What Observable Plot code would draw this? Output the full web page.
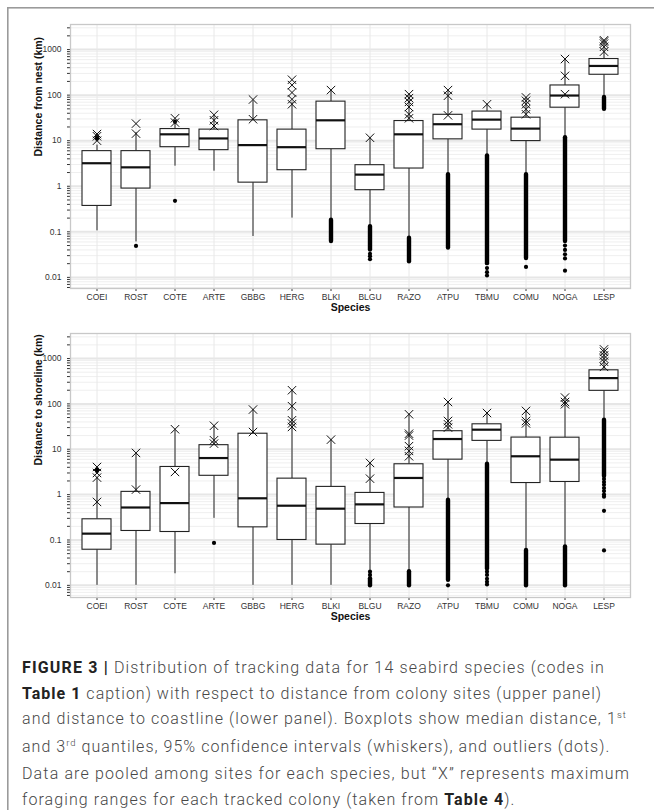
<!DOCTYPE html>
<html>
<head>
<meta charset="utf-8">
<script src="https://cdn.jsdelivr.net/npm/d3@7"></script>
<script src="https://cdn.jsdelivr.net/npm/@observablehq/plot@0.6"></script>
<style>
  html, body { margin: 0; padding: 0; background: #fff; }
  #wrap { position: relative; width: 654px; height: 810px;
    background:
      linear-gradient(#9a9a9a, #9a9a9a) 7px 7px / 647px 1.6px no-repeat,
      linear-gradient(#9a9a9a, #9a9a9a) 7px 7px / 1.6px 803px no-repeat,
      #fff; }
  .panel { position: absolute; left: 0; }
  #caption { position: absolute; left: 22px; top: 655px; font-family: Roboto, "Liberation Sans", sans-serif; font-weight: 300; font-size: 16px; line-height: 25.5px; color: #474747; white-space: nowrap; }
  #caption b { font-weight: 700; color: #222; }
  #caption sup { font-size: 9.5px; vertical-align: 0; position: relative; top: -6px; }
  #caption .ln { display: block; }
</style>
</head>
<body>
<div id="wrap">
  <div id="top" class="panel" style="top:0px"></div>
  <div id="bottom" class="panel" style="top:309px"></div>
  <div id="caption">
    <span class="ln" data-w="583"><b>FIGURE 3 |</b> Distribution of tracking data for 14 seabird species (codes in</span>
    <span class="ln" data-w="580"><b>Table 1</b> caption) with respect to distance from colony sites (upper panel)</span>
    <span class="ln" data-w="605"><span>and distance to coastline (lower panel). Boxplots show median distance, 1</span><sup>st</sup></span>
    <span class="ln" data-w="588"><span>and 3</span><sup>rd</sup><span> quantiles, 95% confidence intervals (whiskers), and outliers (dots).</span></span>
    <span class="ln" data-w="608">Data are pooled among sites for each species, but “X” represents maximum</span>
    <span class="ln" data-w="">foraging ranges for each tracked colony (taken from <b>Table 4</b>).</span>
  </div>
</div>
<script>
// ---------- categories ----------
const species = ["COEI","ROST","COTE","ARTE","GBBG","HERG","BLKI","BLGU","RAZO","ATPU","TBMU","COMU","NOGA","LESP"];

// ---------- y-axis tick labels ----------
const yMajorTicks = [0.01, 0.1, 1, 10, 100, 1000];
const yMinorMultipliers = [2, 3, 4, 5, 6, 7, 8, 9];

// ---------- upper panel: distance from nest (km) ----------
const nestLow    = [0.105, 0.06, 2.76, 2.14, 0.079, 0.2,  0.18, 0.13, 0.072, 1.8,  4.6,  1.8,  11.6, 89];
const nestQ1     = [0.37,  0.89, 7.2,  6.2,  1.2,   2.25, 6.5,  0.82, 2.45,  10.7, 17.5, 9.8,  53,   280];
const nestMedian = [3.2,   2.6,  13.8, 11.2, 8,     7.2,  28,   1.8,  13.8,  23,   29,   18.4, 98,   437];
const nestQ3     = [5.9,   5.9,  18,   17.5, 28,    17.5, 72,   2.9,  27,    37,   43.6, 32,   163,  620];
const nestHigh   = [8,     15,   29,   35,   75,    70,   129,  11.6, 105,   129,  63,   89,   620,  1230];
// dense columns of outliers: [species, lowest, highest]
const nestOutlierRuns = [
  ["BLKI", 0.061, 0.18], ["BLGU", 0.04, 0.13], ["RAZO", 0.022, 0.072], ["ATPU", 0.044, 1.8],
  ["TBMU", 0.02, 4.6], ["COMU", 0.026, 1.8], ["NOGA", 0.061, 11.6], ["LESP", 49, 89]
];
// single outliers: [species, value]
const nestOutliers = [
  ["COEI", 11], ["COEI", 12], ["ROST", 0.049], ["COTE", 0.48], ["COTE", 26],
  ["BLGU", 0.033], ["BLGU", 0.029], ["BLGU", 0.025],
  ["TBMU", 0.016], ["TBMU", 0.013], ["TBMU", 0.011],
  ["COMU", 0.017],
  ["NOGA", 0.05], ["NOGA", 0.04], ["NOGA", 0.032], ["NOGA", 0.026], ["NOGA", 0.014]
];
// maximum foraging ranges per colony ("X")
const nestMaxRanges = [
  ["COEI", 10], ["COEI", 12.5], ["COEI", 14],
  ["ROST", 14.3], ["ROST", 23.7],
  ["COTE", 25], ["COTE", 31],
  ["ARTE", 21], ["ARTE", 28], ["ARTE", 37],
  ["GBBG", 29.6], ["GBBG", 80],
  ["HERG", 63], ["HERG", 81], ["HERG", 114], ["HERG", 166], ["HERG", 218],
  ["BLKI", 129],
  ["BLGU", 11.6],
  ["RAZO", 31], ["RAZO", 38], ["RAZO", 55], ["RAZO", 71], ["RAZO", 86], ["RAZO", 105],
  ["ATPU", 36], ["ATPU", 97], ["ATPU", 129],
  ["TBMU", 63],
  ["COMU", 38], ["COMU", 49], ["COMU", 63], ["COMU", 75], ["COMU", 89],
  ["NOGA", 105], ["NOGA", 265], ["NOGA", 620],
  ["LESP", 900], ["LESP", 1150], ["LESP", 1350], ["LESP", 1500], ["LESP", 1600]
];

// ---------- lower panel: distance to shoreline (km) ----------
const shoreLow    = [0.01,  0.01,  0.018, 0.3,  0.01, 0.01, 0.01,  0.0214, 0.02, 0.75, 4.67, 0.059, 0.07, 43.6];
const shoreQ1     = [0.061, 0.158, 0.15,  2.6,  0.19, 0.10, 0.079, 0.225,  0.52, 5.9,  15.3, 1.8,   1.9,  194];
const shoreMedian = [0.138, 0.52,  0.65,  6.4,  0.83, 0.57, 0.49,  0.61,   2.33, 16.8, 27,   7.0,   5.9,  370];
const shoreQ3     = [0.286, 1.15,  4.07,  12.3, 22,   2.25, 1.48,  1.09,   4.67, 25,   35.5, 18.1,  18,   550];
const shoreHigh   = [2.4,   8.0,   26,    32,   75,   200,  16.3,  5.0,    59,   110,  63,   70,    138,  1520];
const shoreOutlierRuns = [
  ["BLGU", 0.0098, 0.014], ["RAZO", 0.0098, 0.02], ["ATPU", 0.013, 0.75], ["TBMU", 0.023, 4.67],
  ["COMU", 0.0098, 0.059], ["NOGA", 0.0098, 0.07], ["LESP", 2.5, 43.6]
];
const shoreOutliers = [
  ["COEI", 3.3], ["COEI", 3.6], ["ARTE", 0.086],
  ["BLGU", 0.02], ["BLGU", 0.017],
  ["ATPU", 0.01],
  ["TBMU", 0.02], ["TBMU", 0.017], ["TBMU", 0.014], ["TBMU", 0.012], ["TBMU", 0.0105],
  ["LESP", 2.2], ["LESP", 1.9], ["LESP", 1.65], ["LESP", 1.4], ["LESP", 1.2], ["LESP", 1.0], ["LESP", 0.9],
  ["LESP", 0.44], ["LESP", 0.059]
];
const shoreMaxRanges = [
  ["COEI", 0.69], ["COEI", 2.37], ["COEI", 3.0], ["COEI", 4.07],
  ["ROST", 1.29], ["ROST", 8.3],
  ["COTE", 3.16], ["COTE", 27.6],
  ["ARTE", 13.3], ["ARTE", 15.8], ["ARTE", 33],
  ["GBBG", 24], ["GBBG", 75],
  ["HERG", 31], ["HERG", 37], ["HERG", 43.6], ["HERG", 89], ["HERG", 200],
  ["BLKI", 16.3],
  ["BLGU", 2.25], ["BLGU", 5.0],
  ["RAZO", 7.0], ["RAZO", 9.2], ["RAZO", 11.7], ["RAZO", 20], ["RAZO", 22], ["RAZO", 59],
  ["ATPU", 30], ["ATPU", 35.5], ["ATPU", 42], ["ATPU", 110],
  ["TBMU", 63],
  ["COMU", 37], ["COMU", 42], ["COMU", 70],
  ["NOGA", 98], ["NOGA", 110], ["NOGA", 138],
  ["LESP", 655], ["LESP", 850], ["LESP", 1000], ["LESP", 1170], ["LESP", 1400], ["LESP", 1590]
];

// ---------- helpers ----------
const yMinorTicks = [];
for (const d of [0.001, 0.01, 0.1, 1, 10, 100, 1000]) for (const m of yMinorMultipliers) yMinorTicks.push(+(d * m).toPrecision(3));
const isMajor = v => yMajorTicks.some(t => Math.abs(t - v) / t < 1e-6);

function panel({low, q1, median, q3, high, runs, outliers, maxRanges, yLabel, domain}) {
  const boxes = species.map((s, i) => ({s, low: low[i], q1: q1[i], median: median[i], q3: q3[i], high: high[i]}));
  const run = runs.map(([s, a, b]) => ({s, a, b}));
  const pts = outliers.map(([s, v]) => ({s, v}));
  const xs = maxRanges.map(([s, v]) => ({s, v}));
  const inDomain = v => v >= domain[0] && v <= domain[1];
  const minor = yMinorTicks.filter(inDomain);
  const ticks = yMajorTicks.concat(minor);
  return Plot.plot({
    width: 654, height: 320,
    marginLeft: 70, marginRight: 24, marginTop: 24, marginBottom: 32,
    style: {fontFamily: '"Liberation Sans", Arial, sans-serif', fontSize: "8.5px", color: "#333", background: "transparent"},
    x: {type: "band", domain: species, paddingInner: 0.25, paddingOuter: 0.225, label: null, tickSize: 3, tickPadding: 2},
    y: {type: "log", domain, ticks, tickFormat: v => isMajor(v) ? String(v) : "", tickSize: 3, tickPadding: 6, label: null},
    marks: [
      Plot.frame({fill: "white", stroke: null}),
      Plot.ruleY(minor, {stroke: "#efefef", strokeWidth: 1}),
      Plot.ruleY(yMajorTicks, {stroke: "#e6e6e6", strokeWidth: 2}),
      Plot.ruleX(species, {x: d => d, stroke: "#e8e8e8", strokeWidth: 1}),
      Plot.ruleX(boxes, {x: "s", y1: "low", y2: "q1", stroke: "#222", strokeWidth: 1}),
      Plot.ruleX(boxes, {x: "s", y1: "q3", y2: "high", stroke: "#222", strokeWidth: 1}),
      Plot.barY(boxes, {x: "s", y1: "q1", y2: "q3", fill: "white", stroke: "#222", strokeWidth: 1.1}),
      Plot.tickY(boxes, {x: "s", y: "median", stroke: "#111", strokeWidth: 2.2}),
      Plot.ruleX(run, {x: "s", y1: "a", y2: "b", stroke: "#000", strokeWidth: 4.4, strokeLinecap: "round"}),
      Plot.dot(pts, {x: "s", y: "v", r: 2.1, fill: "#000", stroke: null}),
      Plot.dot(xs, {x: "s", y: "v", symbol: "times", r: 3.9, stroke: "#111", strokeWidth: 1}),
      Plot.frame({stroke: "#c8c8c8", strokeWidth: 1.3}),
      Plot.text([yLabel], {frameAnchor: "left", rotate: -90, dx: -32, fontWeight: "bold", fontSize: 10.5, fill: "#111"}),
      Plot.text(["Species"], {frameAnchor: "bottom", dy: 22, fontWeight: "bold", fontSize: 10.5, fill: "#111"})
    ]
  });
}

document.getElementById("top").appendChild(panel({
  low: nestLow, q1: nestQ1, median: nestMedian, q3: nestQ3, high: nestHigh,
  runs: nestOutlierRuns, outliers: nestOutliers, maxRanges: nestMaxRanges,
  yLabel: "Distance from nest (km)", domain: [0.0057, 3550]
}));
document.getElementById("bottom").appendChild(panel({
  low: shoreLow, q1: shoreQ1, median: shoreMedian, q3: shoreQ3, high: shoreHigh,
  runs: shoreOutlierRuns, outliers: shoreOutliers, maxRanges: shoreMaxRanges,
  yLabel: "Distance to shoreline (km)", domain: [0.0054, 3560]
}));

// fit caption lines to the reference line widths
const lines = Array.from(document.querySelectorAll("#caption .ln"));
let spacings = [];
for (const ln of lines) {
  const target = +ln.dataset.w;
  if (!target) continue;
  ln.style.display = "inline-block";
  const w = ln.getBoundingClientRect().width;
  const n = ln.textContent.trim().length;
  const ls = (target - w) / n;
  ln.style.letterSpacing = ls + "px";
  ln.style.display = "block";
  spacings.push(ls);
}
const avg = spacings.reduce((a, b) => a + b, 0) / spacings.length;
lines[lines.length - 1].style.letterSpacing = avg + "px";
</script>
</body>
</html>
